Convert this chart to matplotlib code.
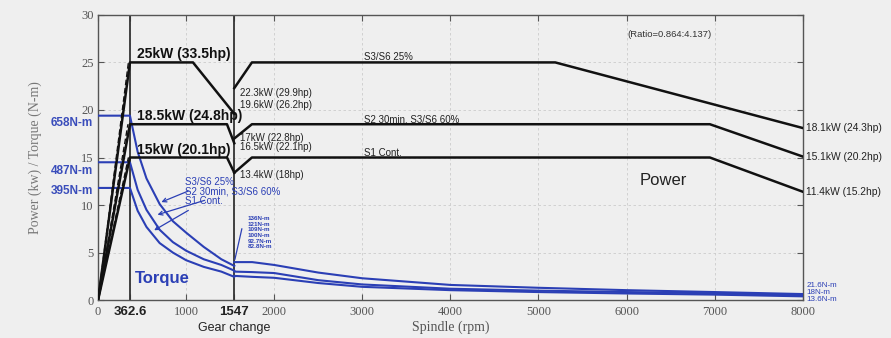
import matplotlib
matplotlib.use('Agg')
import matplotlib.pyplot as plt

# power curves (kW), low gear / high gear
s3_low_rpm = [0, 362.6, 1078, 1547]
s3_low_kw = [0, 25, 25, 19.6]
s3_high_rpm = [1547, 1747, 5190, 8000]
s3_high_kw = [22.3, 25, 25, 18.1]

s2_low_rpm = [0, 362.6, 1464, 1547]
s2_low_kw = [0, 18.5, 18.5, 16.5]
s2_high_rpm = [1547, 1747, 6945, 8000]
s2_high_kw = [17, 18.5, 18.5, 15.1]

s1_low_rpm = [0, 362.6, 1464, 1547]
s1_low_kw = [0, 15, 15, 13.4]
s1_high_rpm = [1547, 1747, 6945, 8000]
s1_high_kw = [13.4, 15, 15, 11.4]

# dashed ramps from origin
ramp_rpm = [345, 340, 345]
ramp_kw = [25, 18.5, 15]

# torque curves, in chart units
tq_low_rpm = [0, 362.6, 450, 550, 700, 850, 1000, 1200, 1400, 1547]
tq_s3_low = [19.4, 19.4, 15.6, 12.8, 10.1, 8.3, 7.1, 5.6, 4.3, 3.6]
tq_s2_low = [14.5, 14.5, 11.6, 9.5, 7.4, 6.1, 5.2, 4.3, 3.7, 3.1]
tq_s1_low = [11.8, 11.8, 9.4, 7.7, 6.0, 5.0, 4.2, 3.5, 3.0, 2.45]

tq_high_rpm = [1547, 1750, 2000, 2500, 3000, 4000, 5000, 6000, 7000, 8000]
tq_s3_high = [4.0, 4.0, 3.7, 2.9, 2.3, 1.6, 1.3, 1.05, 0.85, 0.64]
tq_s2_high = [3.0, 2.95, 2.85, 2.1, 1.65, 1.2, 1.0, 0.85, 0.72, 0.53]
tq_s1_high = [2.55, 2.45, 2.35, 1.8, 1.4, 1.05, 0.85, 0.7, 0.58, 0.40]

left_torque_labels = ['658N-m', '487N-m', '395N-m']
left_torque_y = [18.6, 13.6, 11.5]
gear_torque_labels = ['136N-m', '121N-m', '109N-m', '100N-m', '92.7N-m', '82.8N-m']
end_torque_labels = ['21.6N-m', '18N-m', '13.6N-m']
end_torque_y = [1.58, 0.84, 0.05]
end_power_labels = ['18.1kW (24.3hp)', '15.1kW (20.2hp)', '11.4kW (15.2hp)']

xticks = [0, 362.6, 1000, 1547, 2000, 3000, 4000, 5000, 6000, 7000, 8000]
xtick_labels = ['0', '362.6', '1000', '1547', '2000', '3000', '4000', '5000', '6000', '7000', '8000']

BG = '#efefef'
BLACK = '#111111'
BLUE = '#2b3fb5'
SERIF = 'Liberation Serif'
SANS = 'Liberation Sans'

fig = plt.figure(figsize=(8.91, 3.38), dpi=100, facecolor=BG)
ax = fig.add_axes([0.110, 0.112, 0.791, 0.844])
ax.set_facecolor(BG)

ax.set_xlim(0, 8000)
ax.set_ylim(0, 30)

# gear lines
for xv in [362.6, 1547]:
    ax.axvline(xv, color='#333333', lw=1.3, zorder=2)

# power
for r, p in [(s3_low_rpm, s3_low_kw), (s3_high_rpm, s3_high_kw),
             (s2_low_rpm, s2_low_kw), (s2_high_rpm, s2_high_kw),
             (s1_low_rpm, s1_low_kw), (s1_high_rpm, s1_high_kw)]:
    ax.plot(r, p, color=BLACK, lw=1.8, zorder=4)
for r, p in zip(ramp_rpm, ramp_kw):
    ax.plot([0, r], [0, p], color=BLACK, lw=1.0, ls=(0, (4, 2)), zorder=4)

# torque
for ys in [tq_s3_low, tq_s2_low, tq_s1_low]:
    ax.plot(tq_low_rpm, ys, color=BLUE, lw=1.5, zorder=3)
for ys in [tq_s3_high, tq_s2_high, tq_s1_high]:
    ax.plot(tq_high_rpm, ys, color=BLUE, lw=1.5, zorder=3)

# axes styling
ax.set_xticks(xticks)
ax.set_xticklabels(xtick_labels)
ax.set_yticks(range(0, 31, 5))
ax.tick_params(direction='in', top=True, right=True, length=4, color='#555555', pad=4)
ax.tick_params(axis='y', pad=3)
for lab in ax.get_yticklabels():
    lab.set_family(SERIF); lab.set_fontsize(9); lab.set_color('#555555')
for lab in ax.get_xticklabels():
    if lab.get_text() in ('362.6', '1547'):
        lab.set_family(SANS); lab.set_fontsize(9.5); lab.set_fontweight('bold'); lab.set_color('#222222')
    else:
        lab.set_family(SERIF); lab.set_fontsize(9); lab.set_color('#555555')
for sp in ax.spines.values():
    sp.set_color('#555555'); sp.set_linewidth(1.0)
ax.grid(True, ls=(0, (3, 3)), color='#cccccc', lw=0.6)
ax.set_axisbelow(True)

ax.set_ylabel('Power (kw) / Torque (N-m)', family=SERIF, fontsize=10, color='#777777')
ax.yaxis.set_label_coords(-0.08, 0.5)
ax.set_xlabel('Spindle (rpm)', family=SERIF, fontsize=10, color='#555555', labelpad=2)
ax.text(1547, -2.3, 'Gear change', family=SANS, fontsize=9, color='#222222', ha='center', va='top')

# power annotations
big = dict(family=SANS, fontsize=10, fontweight='bold', color=BLACK, va='bottom')
ax.text(440, 25.1, '25kW (33.5hp)', **big)
ax.text(440, 18.6, '18.5kW (24.8hp)', **big)
ax.text(440, 15.1, '15kW (20.1hp)', **big)
small = dict(family=SANS, fontsize=7, color='#222222', va='center')
ax.text(1610, 21.8, '22.3kW (29.9hp)', **small)
ax.text(1610, 20.5, '19.6kW (26.2hp)', **small)
ax.text(1610, 17.1, '17kW (22.8hp)', **small)
ax.text(1610, 16.1, '16.5kW (22.1hp)', **small)
ax.text(1610, 13.2, '13.4kW (18hp)', **small)
ax.text(3020, 25.6, 'S3/S6 25%', **small)
ax.text(3020, 19.0, 'S2 30min, S3/S6 60%', **small)
ax.text(3020, 15.5, 'S1 Cont.', **small)
ax.text(6010, 27.9, '(Ratio=0.864:4.137)', family=SANS, fontsize=6.8, color='#333333', va='center')
ax.text(6150, 12.6, 'Power', family=SANS, fontsize=12, color='#222222', va='center')
ax.text(420, 2.3, 'Torque', family=SANS, fontsize=12, fontweight='bold', color=BLUE, va='center')

for lab, yv in zip(end_power_labels, [18.1, 15.1, 11.4]):
    ax.text(8040, yv, lab, family=SANS, fontsize=7.4, color='#222222', va='center', clip_on=False)
for lab, yv in zip(end_torque_labels, end_torque_y):
    ax.text(8040, yv, lab, family=SANS, fontsize=5.8, color=BLUE, va='center', clip_on=False)
for lab, yv in zip(left_torque_labels, left_torque_y):
    ax.text(-60, yv, lab, family=SANS, fontsize=8.5, fontweight='bold', color='#3a4dbb',
            ha='right', va='center', clip_on=False)

# curve labels with arrows
curve_labels = ['S3/S6 25%', 'S2 30min, S3/S6 60%', 'S1 Cont.']
label_y = [12.4, 11.4, 10.4]
tip_xy = [(690, 10.2), (645, 8.9), (610, 7.2)]
for lab, yv, tip in zip(curve_labels, label_y, tip_xy):
    ax.annotate(lab, xy=tip, xytext=(990, yv), family=SANS, fontsize=7, color=BLUE, va='center',
                arrowprops=dict(arrowstyle='->', color=BLUE, lw=0.9))

for i, lab in enumerate(gear_torque_labels):
    ax.text(1700, 8.6 - i * 0.6, lab, family=SANS, fontsize=4.5, fontweight='bold', color=BLUE, va='center')
ax.annotate('', xy=(1547, 4.0), xytext=(1640, 7.8),
            arrowprops=dict(arrowstyle='-', color=BLUE, lw=0.9))

fig.savefig('out.png', dpi=100, facecolor=BG)
